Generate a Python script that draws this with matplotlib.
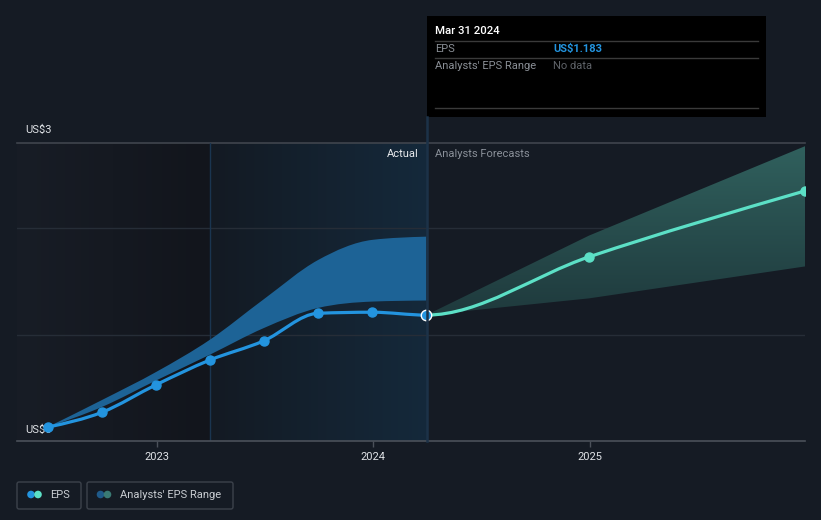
import matplotlib
matplotlib.use('Agg')
import matplotlib.pyplot as plt
import matplotlib.dates as mdates
import numpy as np
from matplotlib.path import Path
from matplotlib.patches import PathPatch, FancyBboxPatch, Rectangle, Circle
from matplotlib.lines import Line2D
from matplotlib.transforms import Affine2D
from matplotlib.colors import LinearSegmentedColormap

plt.rcParams['font.family'] = ['Roboto', 'DejaVu Sans']

# data
eps_dates = ['2022-06-30', '2022-09-30', '2022-12-31', '2023-03-31', '2023-06-30',
             '2023-09-30', '2023-12-31', '2024-03-31', '2024-12-31', '2025-12-31']
eps_values = [0.13, 0.27, 0.53, 0.76, 0.94, 1.20, 1.21, 1.183, 1.73, 2.35]
n_actual = 8

range_low = [0.13, 0.32, 0.57, 0.81, 1.06, 1.25, 1.31, 1.32]
range_high = [0.13, 0.385, 0.65, 0.95, 1.33, 1.70, 1.89, 1.92]

fc_dates = ['2024-03-31', '2024-12-31', '2025-12-31']
fc_low = [1.183, 1.34, 1.64]
fc_high = [1.183, 1.93, 2.77]

year_ticks = ['2023-01-01', '2024-01-01', '2025-01-01']
year_labels = ['2023', '2024', '2025']

BG = '#151b24'
BLUE = '#2394df'
TEAL = '#5ce0c6'
W, H = 821, 520


def dnum(d):
    return mdates.date2num(np.array(d, dtype='datetime64[D]'))


def monotone_segs(x, y):
    # d3 curveMonotoneX as cubic bezier segments
    x = np.asarray(x, float)
    y = np.asarray(y, float)
    n = len(x)
    h = np.diff(x)
    s = np.diff(y) / h
    t = np.zeros(n)
    if n == 2:
        t[:] = s[0]
    else:
        for i in range(1, n - 1):
            p = (s[i - 1] * h[i] + s[i] * h[i - 1]) / (h[i - 1] + h[i])
            t[i] = (np.sign(s[i - 1]) + np.sign(s[i])) * min(abs(s[i - 1]), abs(s[i]), 0.5 * abs(p))
        t[0] = (3 * s[0] - t[1]) / 2
        t[-1] = (3 * s[-1] - t[-2]) / 2
    segs = []
    for i in range(n - 1):
        d = h[i] / 3
        segs.append([(x[i], y[i]), (x[i] + d, y[i] + d * t[i]),
                     (x[i + 1] - d, y[i + 1] - d * t[i + 1]), (x[i + 1], y[i + 1])])
    return segs


def segs_path(segs):
    verts = [segs[0][0]]
    codes = [Path.MOVETO]
    for sg in segs:
        verts += sg[1:]
        codes += [Path.CURVE4] * 3
    return Path(verts, codes)


def band_path(up, lo):
    verts = [up[0][0]]
    codes = [Path.MOVETO]
    for sg in up:
        verts += sg[1:]
        codes += [Path.CURVE4] * 3
    verts.append(lo[-1][3])
    codes.append(Path.LINETO)
    for sg in lo[::-1]:
        verts += [sg[2], sg[1], sg[0]]
        codes += [Path.CURVE4] * 3
    verts.append(verts[0])
    codes.append(Path.CLOSEPOLY)
    return Path(verts, codes)


fig = plt.figure(figsize=(W / 100, H / 100), dpi=100, facecolor=BG)
T = Affine2D().scale(1, -1).translate(0, H)  # image pixel coords

ax = fig.add_axes([17 / W, (H - 441) / H, (805 - 17) / W, (441 - 143) / H])
ax.set_facecolor(BG)

xd = dnum(eps_dates)
t2023 = dnum('2023-01-01')
x_left = t2023 - 140 / (216 / 365)
x_right = dnum('2025-12-31')
x_hl = dnum('2023-03-31')
x_now = dnum('2024-03-31')
ymax = 2.8

# background shading
g = np.linspace(0, 1, 256).reshape(1, -1)
cm_left = LinearSegmentedColormap.from_list('l', ['#181d26', '#12151c'])
ax.imshow(g, extent=[x_left, x_hl, 0, ymax], aspect='auto', cmap=cm_left, zorder=0)
cm_hl = LinearSegmentedColormap.from_list('h', ['#131a23', '#15293b'])
ax.imshow(g, extent=[x_hl, x_now, 0, ymax], aspect='auto', cmap=cm_hl, zorder=0)

# grid
for v in [1, 2]:
    ax.axhline(v, color='#262d37', lw=1, zorder=1)
ax.axhline(ymax, color='#40454d', lw=1.2, zorder=1, clip_on=False)
ax.axvline(x_hl, color='#1a3550', lw=1, zorder=1)

# analysts range, history
rng_up = monotone_segs(xd[:n_actual], range_high)
rng_lo = monotone_segs(xd[:n_actual], range_low)
ax.add_patch(PathPatch(band_path(rng_up, rng_lo), facecolor='#1d6396', edgecolor='none', zorder=2))

# analysts range, forecast (gradient clipped to polygon)
fx = dnum(fc_dates)
poly = np.column_stack([np.r_[fx, fx[::-1]], np.r_[fc_high, fc_low[::-1]]])
fpatch = plt.Polygon(poly, closed=True, facecolor='none', edgecolor='none', zorder=2)
ax.add_patch(fpatch)
gv = np.linspace(0, 1, 256).reshape(-1, 1)
cm_fc = LinearSegmentedColormap.from_list('f', ['#30605d', '#1f3a3d'])
im = ax.imshow(gv, extent=[fx[0], fx[-1], min(fc_low), max(fc_high)], origin='upper',
               aspect='auto', cmap=cm_fc, zorder=2)
im.set_clip_path(fpatch)

# EPS line
segs = monotone_segs(xd, eps_values)
ax.add_patch(PathPatch(segs_path(segs[:n_actual - 1]), facecolor='none', edgecolor=BLUE,
                       lw=2.3, capstyle='round', zorder=4))
ax.add_patch(PathPatch(segs_path(segs[n_actual - 1:]), facecolor='none', edgecolor=TEAL,
                       lw=2.3, capstyle='round', zorder=4))
ax.plot(xd[:n_actual - 1], eps_values[:n_actual - 1], 'o', color=BLUE, ms=6.5, zorder=5)
ax.plot(xd[n_actual:], eps_values[n_actual:], 'o', color=TEAL, ms=6.5, zorder=5)
ax.plot(xd[n_actual - 1], eps_values[n_actual - 1], 'o', color=BLUE, ms=7.5,
        mec='white', mew=1, zorder=6)

ax.set_xlim(x_left, x_right)
ax.set_ylim(0, ymax)
for sp in ['top', 'left', 'right']:
    ax.spines[sp].set_visible(False)
ax.spines['bottom'].set_color('#4b515a')
ax.spines['bottom'].set_linewidth(1.2)
ax.set_yticks([])
ax.set_xticks(dnum(year_ticks))
ax.set_xticklabels(year_labels)
ax.tick_params(axis='x', colors='#4b515a', length=4, width=1, labelcolor='#dfe2e6',
               labelsize=8, pad=4)

# y labels
ax.text(25, 130, 'US$3', transform=T, color='#dfe2e6', fontsize=8, va='center', zorder=1)
ax.text(25, 430, 'US$0', transform=T, color='#dfe2e6', fontsize=8, va='center', zorder=1)

# actual / forecast labels
ax.text(419, 154, 'Actual', transform=T, color='#e8eaed', fontsize=8, va='center',
        ha='right', zorder=7, clip_on=False)
ax.text(435, 154, 'Analysts Forecasts', transform=T, color='#8a9099', fontsize=8,
        va='center', zorder=7, clip_on=False)

# today line and tooltip
fig.add_artist(Line2D([427, 427], [117, 441], transform=T, color='#1c3248', lw=1.8))
fig.add_artist(Rectangle((427, 16), 339, 101, transform=T, facecolor='black', edgecolor='none'))
for yy in [41, 58, 108]:
    fig.add_artist(Line2D([435, 758], [yy, yy], transform=T, color='#3a3a3a', lw=1))
fig.text(435, 31, 'Mar 31 2024', transform=T, color='white', fontsize=8.2,
         fontweight='medium', va='center')
fig.text(435, 49, 'EPS', transform=T, color='#8a8f96', fontsize=8, va='center')
fig.text(553, 49, 'US$1.183', transform=T, color=BLUE, fontsize=8, fontweight='bold', va='center')
fig.text(435, 66, "Analysts' EPS Range", transform=T, color='#8a8f96', fontsize=8, va='center')
fig.text(553, 66, 'No data', transform=T, color='#5f6369', fontsize=8, va='center')

# legend
for x0, x1 in [(17, 81), (87, 233)]:
    fig.add_artist(FancyBboxPatch((x0, 482), x1 - x0, 27, boxstyle='round,pad=0,rounding_size=2',
                                  transform=T, facecolor='none', edgecolor='#3c424b', lw=1))
for cx, col in [(31, BLUE), (38, TEAL), (100.5, '#1f5a8a'), (107.5, '#3a7a74')]:
    fig.add_artist(Circle((cx, 494.5), 3.8, transform=T, facecolor=col, edgecolor='none'))
fig.text(50, 495, 'EPS', transform=T, color='#c9cdd2', fontsize=8, va='center')
fig.text(120, 495, "Analysts' EPS Range", transform=T, color='#c9cdd2', fontsize=8, va='center')

fig.savefig('out.png', dpi=100, facecolor=BG)
